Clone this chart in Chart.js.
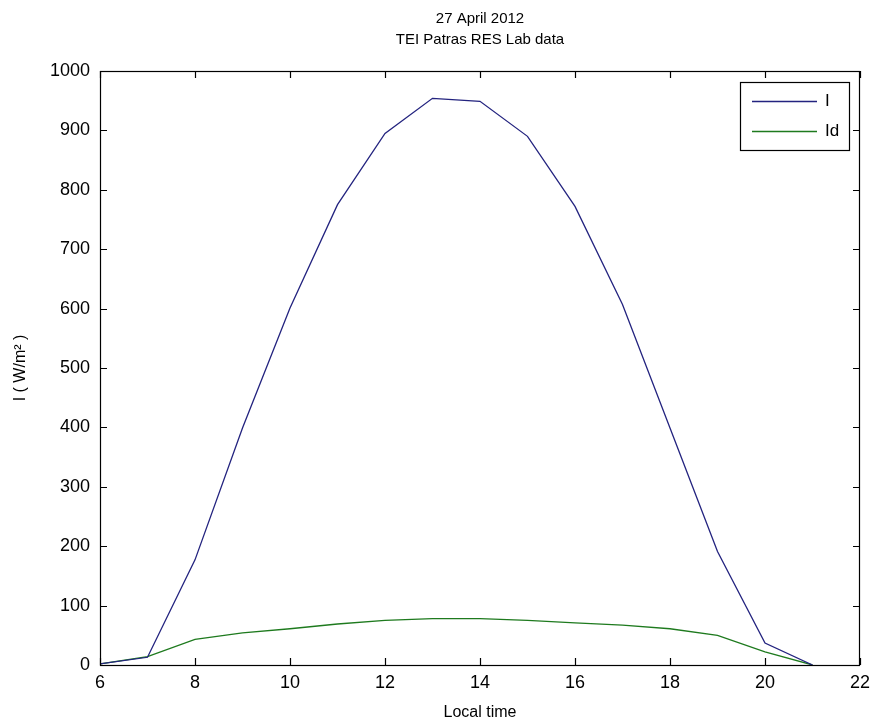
<!DOCTYPE html>
<html>
<head>
<meta charset="utf-8">
<script src="https://cdn.jsdelivr.net/npm/chart.js@4/dist/chart.umd.min.js"></script>
<style>
  html, body { margin: 0; padding: 0; background: #fff; }
  #wrap { width: 870px; height: 722px; }
</style>
</head>
<body>
<div id="wrap"><canvas id="solarChart" width="870" height="722"></canvas></div>
<script>
// hourly data
var hours      = [6, 7, 8, 9, 10, 11, 12, 13, 14, 15, 16, 17, 18, 19, 20, 21];
var irradiance = [2, 13, 177, 399, 601, 775, 895, 954, 949, 890, 772, 607, 399, 191, 37, 0];
var diffuse    = [2, 14, 43, 54, 61, 69, 75, 78, 78, 75, 71, 67, 61, 50, 22, 0];

var titleLines = ['27 April 2012', 'TEI Patras RES Lab data'];
var FONT = '"Liberation Sans", Arial, sans-serif';

function toPoints(ys){
    var pts = [];
    for (var i = 0; i < hours.length; i++) {
        pts.push({x: hours[i], y: ys[i]});
    }
    return pts;
}

// box, inward ticks, title and legend like the old matlab figure
var matlabFrame = {
    id: 'matlabFrame',
    afterDraw: function(chart){
        var ctx = chart.ctx;
        var a = chart.chartArea;
        var xs = chart.scales.x, ys = chart.scales.y;
        var tl = 7;

        ctx.save();
        ctx.strokeStyle = '#000';
        ctx.lineWidth = 1.2;
        ctx.strokeRect(a.left + 0.5, a.top + 0.5, a.right - a.left - 1, a.bottom - a.top);

        ctx.beginPath();
        xs.ticks.forEach(function(t){
            var px = Math.round(xs.getPixelForValue(t.value)) + 0.5;
            ctx.moveTo(px, a.bottom); ctx.lineTo(px, a.bottom - tl);
            ctx.moveTo(px, a.top);    ctx.lineTo(px, a.top + tl);
        });
        ys.ticks.forEach(function(t){
            var py = Math.round(ys.getPixelForValue(t.value)) + 0.5;
            ctx.moveTo(a.left, py);  ctx.lineTo(a.left + tl, py);
            ctx.moveTo(a.right, py); ctx.lineTo(a.right - tl, py);
        });
        ctx.stroke();

        // title, centred over the axes
        ctx.fillStyle = '#000';
        ctx.font = '15px ' + FONT;
        ctx.textAlign = 'center';
        ctx.textBaseline = 'middle';
        var cx = (a.left + a.right) / 2;
        ctx.fillText(titleLines[0], cx, 19);
        ctx.fillText(titleLines[1], cx, 40);

        // legend box top right
        var bw = 109, bh = 68;
        var bx = a.right - 11 - bw, by = a.top + 11;
        ctx.fillStyle = '#fff';
        ctx.fillRect(bx, by, bw, bh);
        ctx.lineWidth = 1.2;
        ctx.strokeRect(bx + 0.5, by + 0.5, bw, bh);
        ctx.textAlign = 'left';
        ctx.font = '17px ' + FONT;
        chart.data.datasets.forEach(function(ds, i){
            var ly = Math.round(by + 19 + i * 30) + 0.5;
            ctx.strokeStyle = ds.borderColor;
            ctx.lineWidth = 1.4;
            ctx.beginPath();
            ctx.moveTo(bx + 12, ly);
            ctx.lineTo(bx + 77, ly);
            ctx.stroke();
            ctx.fillStyle = '#000';
            ctx.fillText(ds.label, bx + 85, ly);
        });
        ctx.restore();
    }
};

var ctx = document.getElementById('solarChart').getContext('2d');
var myChart = new Chart(ctx, {
    type: 'line',
    data: {
        datasets: [{
            label: 'I',
            data: toPoints(irradiance),
            borderColor: '#23237f',
            borderWidth: 1.3,
            pointRadius: 0,
            fill: false,
            tension: 0
        }, {
            label: 'Id',
            data: toPoints(diffuse),
            borderColor: '#1e7a1e',
            borderWidth: 1.3,
            pointRadius: 0,
            fill: false,
            tension: 0
        }]
    },
    options: {
        responsive: false,
        animation: false,
        layout: { padding: { top: 71, right: 10, left: 0, bottom: 0 } },
        plugins: {
            legend: { display: false },
            title: { display: false },
            tooltip: { enabled: false }
        },
        scales: {
            x: {
                type: 'linear',
                min: 6,
                max: 22,
                grid: { display: false, drawTicks: false },
                border: { display: false },
                ticks: {
                    stepSize: 2,
                    padding: 7,
                    color: '#000',
                    font: { family: FONT, size: 18 },
                    maxRotation: 0,
                    callback: function(v){ return String(v); }
                },
                title: {
                    display: true,
                    text: 'Local time',
                    color: '#000',
                    font: { family: FONT, size: 16 },
                    padding: { top: 4, bottom: 0 }
                },
                afterFit: function(s){
                    s.height = 57;
                    s.paddingLeft = 0;
                    s.paddingRight = 0;
                }
            },
            y: {
                min: 0,
                max: 1000,
                grid: { display: false, drawTicks: false },
                border: { display: false },
                ticks: {
                    stepSize: 100,
                    padding: 10,
                    color: '#000',
                    font: { family: FONT, size: 18 },
                    callback: function(v){ return String(v); }
                },
                title: {
                    display: true,
                    text: 'I ( W/m\u00B2 )',
                    color: '#000',
                    font: { family: FONT, size: 16 },
                    padding: { top: 11, bottom: 0 }
                },
                afterFit: function(s){
                    s.width = 100;
                    s.paddingTop = 0;
                    s.paddingBottom = 0;
                }
            }
        }
    },
    plugins: [matlabFrame]
});
</script>
</body>
</html>
